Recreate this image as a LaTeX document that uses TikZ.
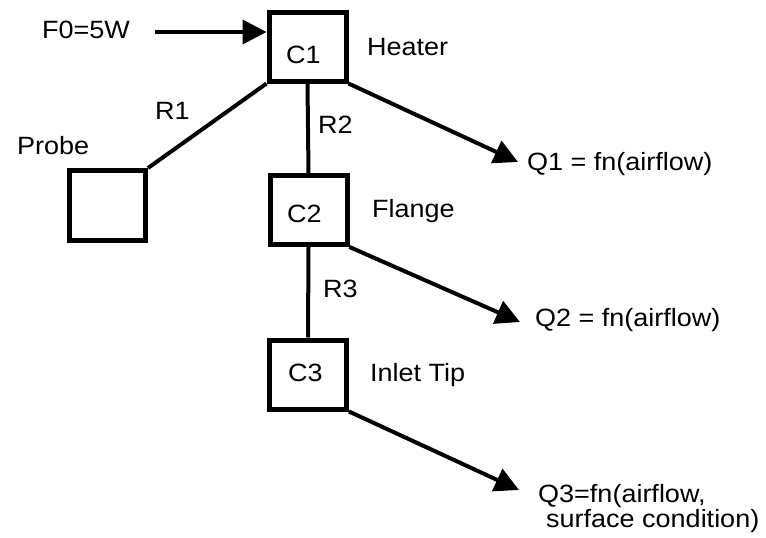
\documentclass[tikz,border=0pt]{standalone}
\usepackage{fontspec}
\setmainfont[FakeStretch=1.08]{Liberation Sans}
\usetikzlibrary{arrows.meta}
\begin{document}
\begin{tikzpicture}[x=1pt,y=-1pt,
  box/.style={draw,line width=5pt,rectangle,inner sep=0pt,minimum width=77pt,minimum height=69pt},
  txt/.style={anchor=base west,inner sep=0pt,font=\fontsize{25}{21}\selectfont},
  wire/.style={line width=4pt},
  flow/.style={line width=4pt,-{Triangle[length=24pt,width=24pt]}}]
\useasboundingbox (0,0) rectangle (766,538);
% boxes
\node[box] (C1) at (307.5,46.5) {};
\node[box] (C2) at (308.5,210) {};
\node[box] (C3) at (308,374.5) {};
\node[box,minimum width=76pt,minimum height=70pt] (P) at (107.5,205.5) {};
% labels
\node[txt] (c1l) at (286,63) {C1};
\node[txt] (c2l) at (287,222) {C2};
\node[txt] (c3l) at (288,381) {C3};
\node[txt] (F0) at (42,38) {F0=5W};
\node[txt] (heater) at (367,55) {Heater};
\node[txt] (flange) at (372,217) {Flange};
\node[txt] (inlet) at (370,381) {Inlet Tip};
\node[txt] (probe) at (17,154) {Probe};
\node[txt] (R1) at (155,119) {R1};
\node[txt] (R2) at (318,133) {R2};
\node[txt] (R3) at (323,297) {R3};
\node[txt] (Q1) at (527,170) {Q1 = fn(airflow)};
\node[txt] (Q2) at (535,326) {Q2 = fn(airflow)};
\node[txt,anchor=north west,align=left] (Q3) at (538,484.5) {Q3=fn(airflow,\\\hspace*{8pt}surface condition)};
% arrow tips
\coordinate (f0s) at (155,32);
\coordinate (q1) at (518,162);
\coordinate (q2) at (520,322);
\coordinate (q3) at (519,490);
% connectors
\draw[flow] (f0s) -- (f0s -| C1.west);
\draw[wire] (C1.south west) -- (P.north east);
\draw[wire] (C1.south) -- (C2.north);
\draw[wire] (C2.south) -- (C3.north);
\draw[flow] (C1.south east) -- (q1);
\draw[flow] (C2.south east) -- (q2);
\draw[flow] (C3.south east) -- (q3);
\end{tikzpicture}
\end{document}
